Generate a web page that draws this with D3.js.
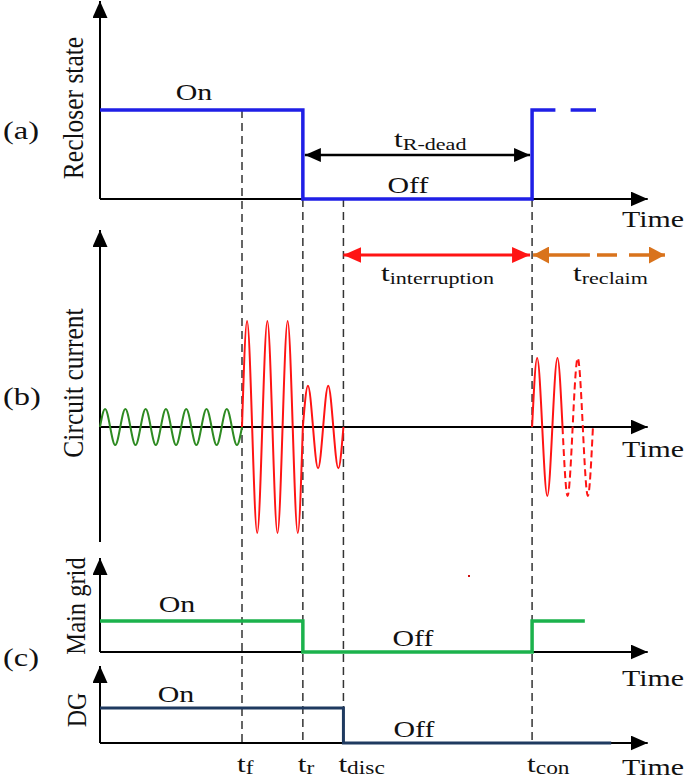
<!DOCTYPE html>
<html lang="en">
<head>
    <meta charset="UTF-8">
    <title>Recloser timing diagram</title>
    <script src="https://d3js.org/d3.v7.min.js"></script>
    <style>
        body { margin: 0; background: #fff; }
        text { font-family: "Liberation Serif", "Times New Roman", serif; fill: #111; }
    </style>
</head>
<body>
<svg width="685" height="781"></svg>

<script>
    // event times (in cycles of the power frequency)
    const eventTimes = [7, 10, 12, 21.3];
    const eventNames = ["f", "r", "disc", "con"];
    const timeEnd = 27.0;

    // step signals [time, state]
    const recloserSolid = [[0, 1], [10, 1], [10, 0], [21.3, 0], [21.3, 1], [22.45, 1]];
    const recloserDash = [[23.2, 1], [24.45, 1]];
    const gridState = [[0, 1], [10, 1], [10, 0], [21.3, 0], [21.3, 1], [23.9, 1]];
    const dgState = [[0, 1], [12, 1], [12, 0], [25.2, 0]];

    // circuit current, peak value of each half cycle (per unit of fault peak)
    const preFaultPeaks = [0.17, -0.17, 0.17, -0.17, 0.17, -0.17, 0.17, -0.17, 0.17, -0.17, 0.17, -0.17, 0.17, -0.17];
    const faultPeaks = [1, -1, 1, -1, 1, -1];
    const clearingPeaks = [0.39, -0.39, 0.39, -0.39];
    const reclaimSolidPeaks = [0.65, -0.65, 0.65];
    const reclaimDashPeaks = [-0.65, 0.65, -0.65];

    const svg = d3.select("svg");
    const stretch = 1.3;    // the figure's lettering is drawn wide
    const vStretch = 1.15;  // same for the rotated axis titles

    const x = d3.scaleLinear().domain([0, 7]).range([100, 242]);
    const yA = d3.scaleLinear().domain([0, 1]).range([199, 110]);
    const yB = d3.scaleLinear().domain([-1, 1]).range([533, 321]);
    const yG = d3.scaleLinear().domain([0, 1]).range([652, 621]);
    const yD = d3.scaleLinear().domain([0, 1]).range([743, 708]);

    // arrow heads
    const defs = svg.append("defs");
    function head(id, color, len, wid) {
        defs.append("marker")
            .attr("id", id)
            .attr("markerUnits", "userSpaceOnUse")
            .attr("viewBox", `0 0 ${len} ${wid}`)
            .attr("refX", len).attr("refY", wid / 2)
            .attr("markerWidth", len).attr("markerHeight", wid)
            .attr("orient", "auto-start-reverse")
            .append("path")
            .attr("d", `M0,0L${len},${wid / 2}L0,${wid}Z`)
            .attr("fill", color);
    }
    head("axisHead", "#000", 17, 15);
    head("blackHead", "#000", 16, 14);
    head("redHead", "#ff1414", 18, 16);
    head("orangeHead", "#d9731c", 16, 17);

    // axes
    function axes(y, yBottom, yTop) {
        svg.append("line")
            .attr("x1", x(0)).attr("x2", x(0))
            .attr("y1", yBottom).attr("y2", yTop)
            .attr("stroke", "#000").attr("stroke-width", 2)
            .attr("marker-end", "url(#axisHead)");
        svg.append("line")
            .attr("x1", x(0)).attr("x2", x(timeEnd))
            .attr("y1", y).attr("y2", y)
            .attr("stroke", "#000").attr("stroke-width", 2)
            .attr("marker-end", "url(#axisHead)");
    }
    axes(yA(0), yA(0), 1);
    axes(yB(0), 542, 230);
    axes(yG(0), yG(0), 558);
    axes(yD(0), yD(0), 666);

    // dashed event lines
    const dashTop = [yA(1), yA(0), yA(0), yA(0)];
    svg.append("g").selectAll("line")
        .data(eventTimes)
        .join("line")
        .attr("x1", d => x(d)).attr("x2", d => x(d))
        .attr("y1", (d, i) => dashTop[i]).attr("y2", yD(0))
        .attr("stroke", "#333").attr("stroke-width", 1.5)
        .attr("stroke-dasharray", "8,5");

    // step lines
    const step = (y) => d3.line().x(d => x(d[0])).y(d => y(d[1]));
    svg.append("path").attr("d", step(yA)(recloserSolid))
        .attr("fill", "none").attr("stroke", "#1f1fe6").attr("stroke-width", 3.5);
    svg.append("path").attr("d", step(yA)(recloserDash))
        .attr("fill", "none").attr("stroke", "#1f1fe6").attr("stroke-width", 3.5);
    svg.append("path").attr("d", step(yG)(gridState))
        .attr("fill", "none").attr("stroke", "#1bb24c").attr("stroke-width", 3.5);
    svg.append("path").attr("d", step(yD)(dgState))
        .attr("fill", "none").attr("stroke", "#1f3a60").attr("stroke-width", 3);

    // waveforms
    function wavePoints(t0, peaks) {
        const pts = [[t0, 0]];
        peaks.forEach((p, i) => {
            pts.push([t0 + i * 0.5 + 0.25, p]);
            pts.push([t0 + (i + 1) * 0.5, 0]);
        });
        return pts;
    }
    const wave = d3.line().x(d => x(d[0])).y(d => yB(d[1])).curve(d3.curveNatural);
    const waves = [
        {t0: 0, peaks: preFaultPeaks, color: "#2e8b22", dash: null},
        {t0: eventTimes[0], peaks: faultPeaks, color: "#ff1414", dash: null},
        {t0: eventTimes[1], peaks: clearingPeaks, color: "#ff1414", dash: null},
        {t0: eventTimes[3], peaks: reclaimSolidPeaks, color: "#ff1414", dash: null},
        {t0: eventTimes[3] + reclaimSolidPeaks.length * 0.5, peaks: reclaimDashPeaks, color: "#ff1414", dash: "7,4"}
    ];
    svg.append("g").selectAll("path")
        .data(waves)
        .join("path")
        .attr("d", d => wave(wavePoints(d.t0, d.peaks)))
        .attr("fill", "none")
        .attr("stroke", d => d.color)
        .attr("stroke-width", 2)
        .attr("stroke-dasharray", d => d.dash);

    // interval arrows
    svg.append("line")
        .attr("x1", x(eventTimes[1]) + 2).attr("x2", x(eventTimes[3]) - 2)
        .attr("y1", 155).attr("y2", 155)
        .attr("stroke", "#000").attr("stroke-width", 2.5)
        .attr("marker-start", "url(#blackHead)").attr("marker-end", "url(#blackHead)");
    svg.append("line")
        .attr("x1", x(eventTimes[2])).attr("x2", x(eventTimes[3]) - 2)
        .attr("y1", 255).attr("y2", 255)
        .attr("stroke", "#ff1414").attr("stroke-width", 3)
        .attr("marker-start", "url(#redHead)").attr("marker-end", "url(#redHead)");
    // reclaim arrow: solid part then dashed part
    svg.append("line")
        .attr("x1", x(eventTimes[3]) + 1).attr("x2", x(24.15))
        .attr("y1", 255).attr("y2", 255)
        .attr("stroke", "#d9731c").attr("stroke-width", 3.5)
        .attr("marker-start", "url(#orangeHead)");
    svg.append("line")
        .attr("x1", x(24.5)).attr("x2", x(27.85))
        .attr("y1", 255).attr("y2", 255)
        .attr("stroke", "#d9731c").attr("stroke-width", 3.5)
        .attr("stroke-dasharray", "20,12")
        .attr("marker-end", "url(#orangeHead)");

    // texts
    function label(tx, ty, str, size, anchor) {
        svg.append("text")
            .attr("transform", `translate(${tx},${ty}) scale(${stretch},1)`)
            .attr("font-size", size).attr("text-anchor", anchor || "middle")
            .text(str);
    }
    function tlabel(tx, ty, sub, subSize, shift) {
        const t = svg.append("text")
            .attr("transform", `translate(${tx},${ty}) scale(${stretch},1)`)
            .attr("font-size", 24);
        t.append("tspan").text("t");
        t.append("tspan").attr("font-size", subSize).attr("dy", shift).text(sub);
    }
    label(194, 100, "On", 23);
    label(408, 193, "Off", 23);
    label(177, 612, "On", 23);
    label(413, 646, "Off", 23);
    label(176, 702, "On", 23);
    label(414, 737, "Off", 23);

    [227, 457, 686, 775].forEach(ty => label(622, ty, "Time", 23, "start"));

    label(3, 139, "(a)", 25, "start");
    label(3, 405, "(b)", 25, "start");
    label(3, 666, "(c)", 25, "start");

    function vlabel(cx, cy, str, size) {
        svg.append("text")
            .attr("transform", `translate(${cx},${cy}) scale(${vStretch},1) rotate(-90)`)
            .attr("font-size", size).attr("text-anchor", "middle")
            .text(str);
    }
    vlabel(83, 108, "Recloser state", 25.5);
    vlabel(83, 383, "Circuit current", 25.5);
    vlabel(85, 606, "Main grid", 24.5);
    vlabel(86, 710, "DG", 24);

    tlabel(394, 147, "R-dead", 17, 3);
    tlabel(381, 281, "interruption", 17, 3);
    tlabel(573, 281, "reclaim", 17, 3);
    eventTimes.forEach((t, i) => tlabel(x(t) - 5, 772, eventNames[i], 18, 2));

    // stray mark in the source figure
    svg.append("rect").attr("x", 468).attr("y", 575).attr("width", 2).attr("height", 2).attr("fill", "#d01010");
</script>
</body>
</html>
